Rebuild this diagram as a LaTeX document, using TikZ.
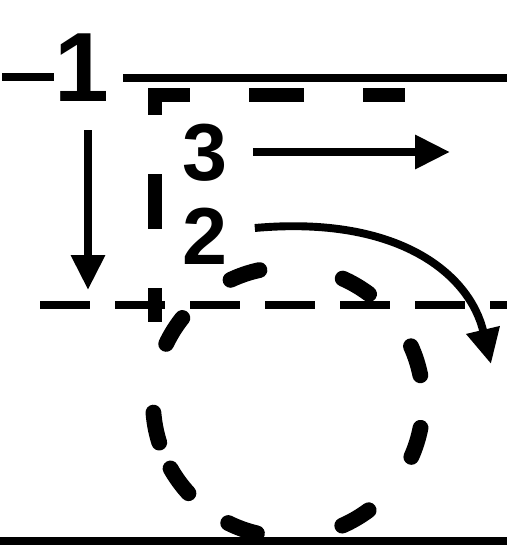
\documentclass[tikz,border=0pt]{standalone}
\usepackage{fontspec}
\setmainfont{Liberation Sans}
\usetikzlibrary{arrows.meta,positioning,calc}

\tikzset{
  numlbl/.style={font=\fontsize{46}{46}\selectfont\bfseries,inner sep=0pt},
  solidline/.style={line width=5pt},
  arr/.style={line width=4.5pt,-{Triangle[length=7mm,width=6.5mm]}},
  rimdash/.style={line width=7.5pt,dash pattern=on 11mm off 11.8mm,dash phase=2.6mm},
  leveldash/.style={line width=4.5pt,dash pattern=on 10mm off 5mm},
  ringdash/.style={line width=9pt,line cap=round}
}

\begin{document}
\begin{tikzpicture}[x=0.2mm,y=-0.2mm]
    \useasboundingbox (0,0) rectangle (507,545);

    % labels
    \node[numlbl,font=\fontsize{56}{56}\selectfont\bfseries] (n1) at (82,68) {1};
    \node[numlbl] (n3) at (205,153) {3};
    \node[numlbl] (n2) at (205,236) {2};

    % surface and bottom
    \coordinate (tickL) at (2,77);
    \coordinate (tickR) at (54,77);
    \coordinate (surfL) at (123,78);
    \coordinate (surfR) at (507,78);
    \coordinate (botL) at (0,541);
    \coordinate (botR) at (507,541);
    \draw[solidline] (tickL) -- (tickR);
    \draw[solidline] (surfL) -- (surfR);
    \draw[solidline] (botL) -- (botR);

    % dashed level and rim
    \coordinate (lvlL) at (40,305);
    \coordinate (lvlR) at (507,305);
    \draw[leveldash] (lvlL) -- (lvlR);
    \coordinate (rimR) at (405,95);
    \coordinate (rimB) at (155,322);
    \draw[rimdash] (rimR) -| (rimB);

    % dashed ring
    \coordinate (ctr) at (288,402);
    \foreach \a in {-17.9,-59.6,-108.7,-148,169,144,109.8,59.8,17.5}{
      \draw[ringdash] ($(ctr)+(\a-6.5:135)$) arc[start angle=\a-6.5,end angle=\a+6.5,radius=135];
    }

    % arrows
    \coordinate (d1) at (88,290);
    \coordinate (a3) at (450,152);
    \coordinate (a2) at (491,364);
    \draw[arr] ($(n1.south)+(6,28)$) -- (d1);
    \draw[arr] ($(n3.east)+(25,-1)$) -- (a3);
    \draw[arr] ($(n2.east)+(27,-8)$) .. controls (400,215) and (470,275) .. (a2);
  \end{tikzpicture}
\end{document}
